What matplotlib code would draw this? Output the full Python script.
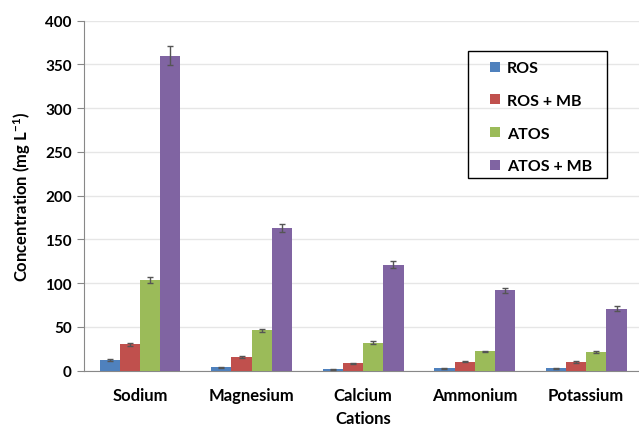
import matplotlib
matplotlib.use('Agg')
import matplotlib.pyplot as plt
from matplotlib.patches import Rectangle
import numpy as np

cations = ['Sodium', 'Magnesium', 'Calcium', 'Ammonium', 'Potassium']
series = ['ROS', 'ROS + MB', 'ATOS', 'ATOS + MB']
ros = [12, 4, 1.5, 2.7, 2.7]
ros_mb = [30, 15.5, 8.5, 10.5, 10]
atos = [104, 46, 32, 22, 21]
atos_mb = [360, 163, 121, 92, 71]
ros_err = [1, 0.5, 0.3, 0.3, 0.3]
ros_mb_err = [1.5, 1, 0.8, 0.8, 0.8]
atos_err = [3.5, 2, 1.5, 1, 1]
atos_mb_err = [11, 5, 4, 3, 3]
colors = ['#4F81BD', '#C0504D', '#9BBB59', '#8064A2']

plt.rcParams['font.family'] = ['Lato', 'DejaVu Sans']
plt.rcParams['font.weight'] = 'bold'
plt.rcParams['mathtext.fontset'] = 'custom'
plt.rcParams['mathtext.rm'] = 'Lato:bold'
plt.rcParams['mathtext.default'] = 'rm'

W, H = 639, 427
fig = plt.figure(figsize=(W / 100, H / 100), dpi=100)
ax = fig.add_axes([84.3 / W, 55.3 / H, (642 - 84.3) / W, 350 / H])

x = np.arange(len(cations))
w = 0.181
vals = [ros, ros_mb, atos, atos_mb]
errs = [ros_err, ros_mb_err, atos_err, atos_mb_err]
handles = []
for i, (v, e) in enumerate(zip(vals, errs)):
    ax.bar(x + (i - 1.5) * w, v, w, yerr=e, color=colors[i],
           error_kw=dict(ecolor='#555555', elinewidth=1, capsize=2.5, capthick=1),
           zorder=3)
    handles.append(plt.Line2D([], [], linestyle='none', marker='s', markersize=6.5,
                              markerfacecolor=colors[i], markeredgewidth=0,
                              label=series[i]))

ax.set_xlim(-0.5, 4.5)
ax.set_ylim(0, 400)
ax.set_yticks(range(0, 401, 50))
ax.yaxis.grid(True, color='#e6e6e6', linewidth=1, zorder=0)
ax.set_axisbelow(True)
ax.set_xticks(x)
ax.set_xticklabels(cations, fontsize=12, fontweight='bold')
ax.tick_params(axis='x', length=0, pad=12)
ax.tick_params(axis='y', length=5, color='#888888', labelsize=11, pad=4)
for t in ax.get_yticklabels():
    t.set_fontweight('bold')
for s in ['top', 'right']:
    ax.spines[s].set_visible(False)
for s in ['left', 'bottom']:
    ax.spines[s].set_color('#888888')

ax.set_xlabel('Cations', fontsize=12, fontweight='bold', labelpad=5)
ax.set_ylabel('Concentration (mg L$^{-1}$)', fontsize=12, fontweight='bold', labelpad=9)

# legend entries without frame, boxed by a separate rectangle
leg = ax.legend(handles=handles, loc='upper left',
                bbox_to_anchor=(488 / W, 1 - 62 / H),
                bbox_transform=fig.transFigure, frameon=False,
                handlelength=0.9, handletextpad=0.3,
                labelspacing=1.16, borderpad=0, borderaxespad=0,
                prop={'weight': 'bold', 'size': 11.5})
fig.patches.append(Rectangle((468 / W, 1 - 179 / H), (607 - 468) / W, (179 - 52) / H,
                             transform=fig.transFigure, fill=False,
                             edgecolor='black', linewidth=1, zorder=5))

fig.savefig('out.png', dpi=100)
